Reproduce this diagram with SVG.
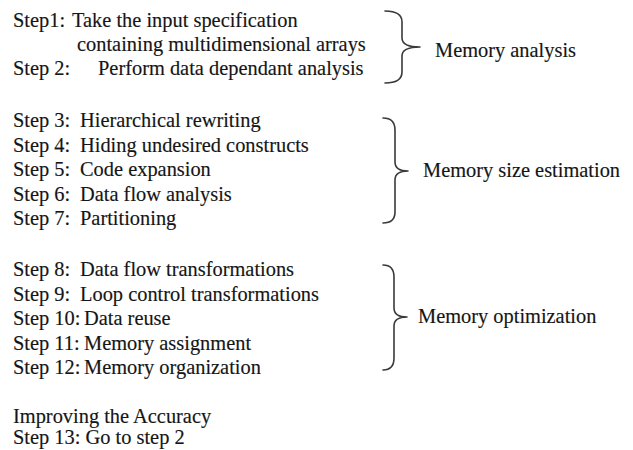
<svg xmlns="http://www.w3.org/2000/svg" width="633" height="450" viewBox="0 0 633 450">
  <style>
    text { font-family: "Liberation Serif", "Times New Roman", serif; font-size: 20.4px; fill: #151515; stroke: #151515; stroke-width: 0.15; }
    .brace { fill: none; stroke: #3a3a3a; stroke-width: 1.6; stroke-linecap: round; stroke-linejoin: round; }
  </style>
  <rect width="633" height="450" fill="#ffffff"/>

  <!-- Memory analysis steps -->
  <g id="step1">
    <text><tspan x="13" y="27">Step1:</tspan><tspan x="72" y="27">Take the input specification</tspan></text>
    <text x="77" y="51">containing  multidimensional arrays</text>
  </g>
  <g id="step2">
    <text><tspan x="13" y="75">Step 2:</tspan><tspan x="98" y="75">Perform data dependant analysis</tspan></text>
  </g>

  <!-- Memory size estimation steps -->
  <g id="step3"><text><tspan x="13" y="127">Step 3:</tspan><tspan x="80" y="127">Hierarchical rewriting</tspan></text></g>
  <g id="step4"><text><tspan x="13" y="151.5">Step 4:</tspan><tspan x="80" y="151.5">Hiding undesired constructs</tspan></text></g>
  <g id="step5"><text><tspan x="13" y="176">Step 5:</tspan><tspan x="80" y="176">Code expansion</tspan></text></g>
  <g id="step6"><text><tspan x="13" y="200.5">Step 6:</tspan><tspan x="80" y="200.5">Data flow analysis</tspan></text></g>
  <g id="step7"><text><tspan x="13" y="225">Step 7:</tspan><tspan x="80" y="225">Partitioning</tspan></text></g>

  <!-- Memory optimization steps -->
  <g id="step8"><text><tspan x="13" y="276">Step 8:</tspan><tspan x="80" y="276">Data flow transformations</tspan></text></g>
  <g id="step9"><text><tspan x="13" y="300.5">Step 9:</tspan><tspan x="80" y="300.5">Loop control transformations</tspan></text></g>
  <g id="step10"><text><tspan x="13" y="325">Step 10:</tspan><tspan x="84" y="325">Data reuse</tspan></text></g>
  <g id="step11"><text><tspan x="13" y="349.5">Step 11:</tspan><tspan x="84" y="349.5">Memory assignment</tspan></text></g>
  <g id="step12"><text><tspan x="13" y="374">Step 12:</tspan><tspan x="84" y="374">Memory organization</tspan></text></g>

  <!-- Accuracy loop -->
  <g id="accuracy">
    <text x="13" y="423">Improving the Accuracy</text>
    <text x="13" y="444">Step 13: Go to step 2</text>
  </g>

  <!-- Braces grouping the steps -->
  <g id="connectors">
    <path class="brace" d="M385,11 Q402,11 402,22 L402,38 Q402,47 420,47 Q402,47 402,56 L402,72 Q402,83 385,83"/>
    <path class="brace" d="M383,118 Q395,118 395,130 L395,162 Q395,171 408,171 Q395,171 395,180 L395,212 Q395,223 383,223"/>
    <path class="brace" d="M383,265 Q394,265 394,277 L394,308 Q394,317 407,317 Q394,317 394,326 L394,358 Q394,370 383,370"/>
  </g>

  <!-- Phase labels -->
  <g id="memory-analysis"><text x="435" y="57">Memory analysis</text></g>
  <g id="memory-size-estimation"><text x="423" y="177">Memory size estimation</text></g>
  <g id="memory-optimization"><text x="418" y="323">Memory optimization</text></g>
</svg>
